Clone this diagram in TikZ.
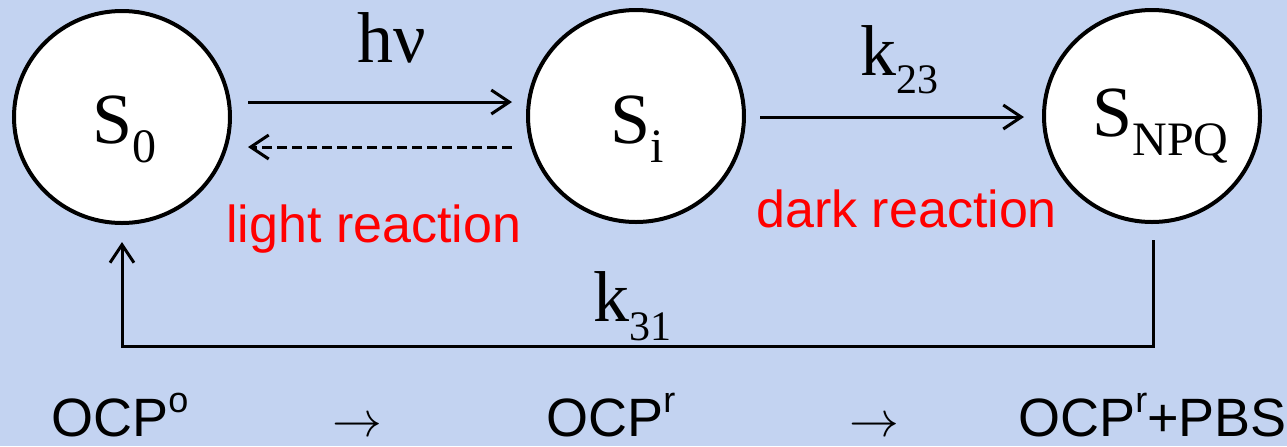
\documentclass[tikz,border=0pt]{standalone}
\usepackage{fontspec}
\setmainfont{Liberation Serif}
\setsansfont{Liberation Sans}
\usetikzlibrary{arrows.meta,shapes.geometric}
\definecolor{bgblue}{RGB}{195,211,241}
\definecolor{redtxt}{RGB}{255,0,0}
\newcommand{\mysub}[2]{\raisebox{-9.5pt}{\fontsize{#1}{#1}\selectfont #2}}
\begin{document}
\begin{tikzpicture}[x=0.5pt,y=-0.5pt,
  state/.style={draw=black,line width=2pt,fill=white,ellipse,inner sep=0pt,
    minimum width=108pt,minimum height=106pt},
  biglbl/.style={anchor=base west,inner sep=0pt,font=\fontsize{36}{36}\selectfont},
  redlbl/.style={anchor=base west,inner sep=0pt,text=redtxt,font=\sffamily\fontsize{26}{26}\selectfont},
  botlbl/.style={anchor=base west,inner sep=0pt,text depth=0pt,font=\sffamily\fontsize{27}{27}\selectfont},
  botarr/.style={anchor=base,inner sep=0pt,text depth=0pt,font=\fontsize{24}{24}\selectfont},
  conn/.style={line width=1.5pt,-{Straight Barb[length=9pt,width=12pt,line width=1.5pt]}}
]
\useasboundingbox (0,0) rectangle (1287,446);
\fill[bgblue] (0,0) rectangle (1287,446);

% states
\node[state] (s0) at (122,117) {};
\node[state] (si) at (636,116) {};
\node[state] (snpq) at (1152,116) {};

\node[biglbl] (s0t) at (92,143) {S\mysub{24}{0}};
\node[biglbl] (sit) at (610,143) {S\mysub{24}{i}};
\node[biglbl] (snpqt) at (1092,136) {S\mysub{24}{NPQ}};

% connectors
\draw[conn] ([shift={(16,-15)}]s0.east) -- ([shift={(-14,-14)}]si.west);
\draw[conn,dash pattern=on 5pt off 2.5pt] ([shift={(-14,31)}]si.west) -- ([shift={(16,30)}]s0.east);
\draw[conn] ([shift={(14,1)}]si.east) -- ([shift={(-18,1)}]snpq.west);

\coordinate (fbR) at (1153,240);
\coordinate (fbL) at (122,242);
\draw[conn] (fbR) -- (1153,346) -- (122,346) -- (fbL);

% rate labels
\node[biglbl] (hnu) at (357,62) {hν};
\node[biglbl] (k23) at (860,75) {k\raisebox{-9pt}{\fontsize{21}{21}\selectfont 23}};
\node[biglbl] (k31) at (593,321) {k\raisebox{-9.5pt}{\fontsize{21}{21}\selectfont 31}};

% red labels
\node[redlbl] (light) at (226,242) {light reaction};
\node[redlbl] (dark) at (756,227) {dark reaction};

% bottom row
\node[botlbl] (ocpo) at (51,436) {OCP\raisebox{12pt}{\fontsize{18}{18}\selectfont o}};
\node[botarr] (ar1) at (357,436) {$\rightarrow$};
\node[botlbl] (ocpr) at (546,436) {OCP\raisebox{12pt}{\fontsize{18}{18}\selectfont r}};
\node[botarr] (ar2) at (874,436) {$\rightarrow$};
\node[botlbl] (ocppbs) at (1018,436) {OCP\raisebox{12pt}{\fontsize{18}{18}\selectfont r}+PBS};
\end{tikzpicture}
\end{document}
